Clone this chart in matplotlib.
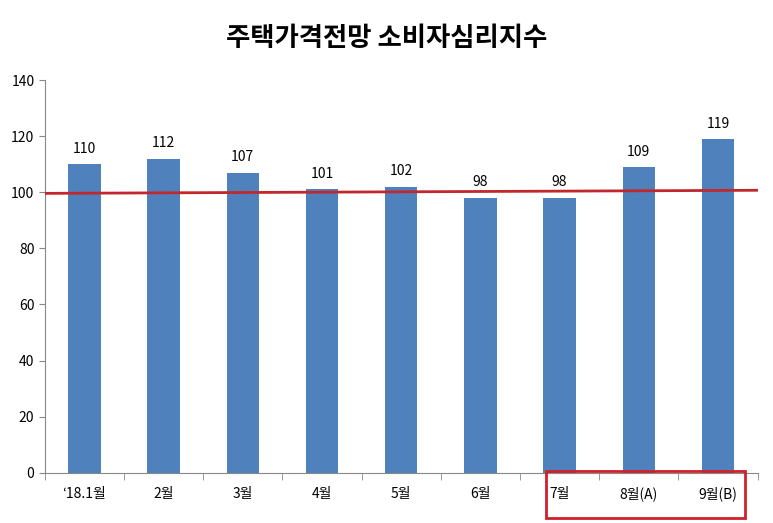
import matplotlib
matplotlib.use("Agg")
import matplotlib.pyplot as plt
from matplotlib.patches import Rectangle

plt.rcParams['font.family'] = ['Noto Sans CJK KR', 'DejaVu Sans']

categories = ["‘18.1월", "2월", "3월", "4월", "5월", "6월", "7월", "8월(A)", "9월(B)"]
values = [110, 112, 107, 101, 102, 98, 98, 109, 119]
ref_line = [99.6, 100.7]

fig = plt.figure(figsize=(7.73, 5.23), dpi=100)
ax = fig.add_axes([0.058, 0.096, 0.922, 0.751])
x = list(range(len(categories)))
bars = ax.bar(x, values, width=0.41, color='#4f81bd', zorder=2)
for xi, v in zip(x, values):
    ax.text(xi, v + 3, str(v), ha='center', va='bottom', fontsize=10)
ax.plot([-0.5, len(categories) - 0.5], ref_line, color='#c0282d', lw=2, zorder=3)
ax.set_xlim(-0.5, len(categories) - 0.5)
ax.set_ylim(0, 140)
ax.set_yticks(range(0, 141, 20))
ax.set_xticks(x)
ax.set_xticklabels(categories, fontsize=10)
ax.set_xticks([i - 0.5 for i in range(len(categories) + 1)], minor=True)
ax.tick_params(axis='x', which='major', length=0, pad=10)
ax.tick_params(axis='x', which='minor', length=5, color='#888888')
ax.tick_params(axis='y', labelsize=10, length=4, color='#888888')
for s in ['top', 'right']:
    ax.spines[s].set_visible(False)
for s in ['left', 'bottom']:
    ax.spines[s].set_color('#888888')
fig.text(0.5, 0.927, "주택가격전망 소비자심리지수", ha='center', va='center',
         fontsize=19, fontweight='bold')
fig.patches.append(Rectangle((546 / 773, 5 / 523), 199 / 773, 47 / 523,
                             transform=fig.transFigure, fill=False,
                             edgecolor='#d0202a', lw=2))
fig.savefig("out.png", dpi=100)
